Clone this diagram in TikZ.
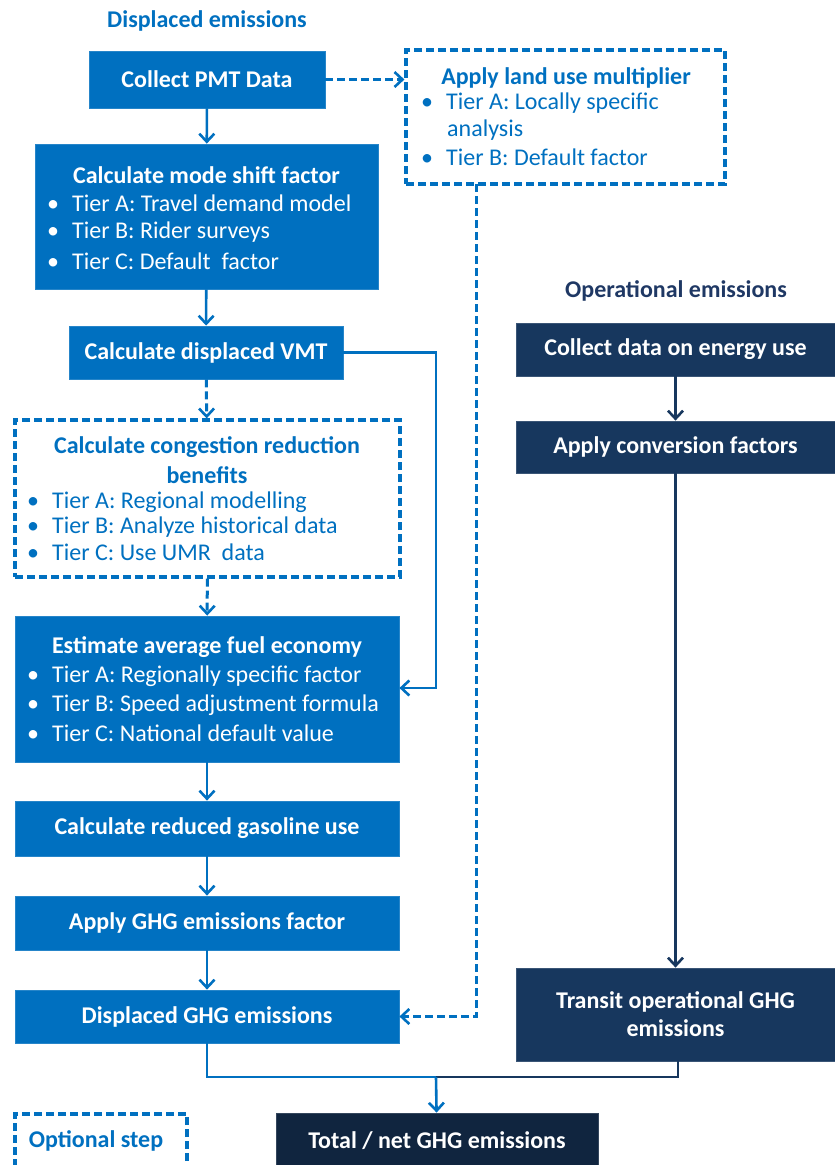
\documentclass[tikz,border=0pt]{standalone}
\usepackage{fontspec}
\setmainfont{Carlito}
\usetikzlibrary{arrows.meta}
\definecolor{cblue}{RGB}{0,112,192}
\definecolor{cnavy}{RGB}{23,55,94}
\definecolor{cdark}{RGB}{16,37,63}
\definecolor{ctitle}{RGB}{31,56,100}
\newcommand{\bl}{\makebox[25pt][l]{\textbullet}}
\tikzset{
  fb/.style={fill=cblue, draw=cblue!85!white, line width=0.8pt, inner sep=0pt, text=white, font=\fontsize{24}{28}\selectfont\bfseries},
  nb/.style={fill=cnavy, draw=cnavy!85!white, line width=0.8pt, inner sep=0pt, text=white, font=\fontsize{24}{28}\selectfont\bfseries, align=center},
  db/.style={draw=cblue, line width=3.2pt, dash pattern=on 8pt off 4pt, inner sep=0pt},
  ttlw/.style={text=white, font=\fontsize{24}{28}\selectfont\bfseries, inner sep=0pt},
  ttlb/.style={text=cblue, font=\fontsize{24}{28}\selectfont\bfseries, inner sep=0pt},
  bulw/.style={text=white, font=\fontsize{24}{28}\selectfont, anchor=west, inner sep=0pt},
  bulb/.style={text=cblue, font=\fontsize{24}{28}\selectfont, anchor=west, inner sep=0pt},
  arr/.style={draw=cblue, line width=2.6pt, -{Straight Barb[length=8pt,width=15pt,line width=2.6pt]}},
  darr/.style={arr, line width=3pt, dash pattern=on 8pt off 4pt},
  narr/.style={arr, draw=cnavy},
  ln/.style={draw=cblue, line width=2.6pt},
}
\begin{document}
\begin{tikzpicture}[x=1pt,y=-1pt]
\useasboundingbox (0,0) rectangle (835,1165);

% titles
\node[ttlb] (tdisp) at (207,21) {Displaced emissions};
\node[text=ctitle, font=\fontsize{24}{28}\selectfont\bfseries, inner sep=0pt] (top) at (676,291) {Operational emissions};

% left column
\node[fb, minimum width=236, minimum height=57] (pmt) at (207,79.5) {Collect PMT Data};

\node[fb, minimum width=343, minimum height=145] (ms) at (206.5,216.5) {};
\node[ttlw] (mst) at (206.5,175) {Calculate mode shift factor};
\node[bulw] (ms1) at (47,203) {\bl Tier A: Travel demand model};
\node[bulw] (ms2) at (47,232) {\bl Tier B: Rider surveys};
\node[bulw] (ms3) at (47,261) {\bl Tier C: Default\ \ factor};

\node[fb, minimum width=274, minimum height=53] (vmt) at (206,352.5) {Calculate displaced VMT};

\node[db, minimum width=385, minimum height=157] (cg) at (207.5,498.5) {};
\node[ttlb] (cgt1) at (207,447) {Calculate congestion reduction};
\node[ttlb] (cgt2) at (207,475) {benefits};
\node[bulb] (cg1) at (27,502) {\bl Tier A: Regional modelling};
\node[bulb] (cg2) at (27,527) {\bl Tier B: Analyze historical data};
\node[bulb] (cg3) at (27,552) {\bl Tier C: Use UMR\ \ data};

\node[fb, minimum width=384, minimum height=146] (fe) at (207,689) {};
\node[ttlw] (fet) at (207,647) {Estimate average fuel economy};
\node[bulw] (fe1) at (27,676) {\bl Tier A: Regionally specific factor};
\node[bulw] (fe2) at (27,705) {\bl Tier B: Speed adjustment formula};
\node[bulw] (fe3) at (27,733) {\bl Tier C: National default value};

\node[fb, minimum width=384, minimum height=55] (gas) at (207,828.5) {Calculate reduced gasoline use};
\node[fb, minimum width=384, minimum height=54] (ghgf) at (207,923) {Apply GHG emissions factor};
\node[fb, minimum width=384, minimum height=53] (dghg) at (207,1016.5) {Displaced GHG emissions};

% land use
\node[db, minimum width=319, minimum height=134] (lu) at (565.5,117) {};
\node[ttlb] (lut) at (566,78) {Apply land use multiplier};
\node[bulb] (lu1) at (421,103) {\bl Tier A: Locally specific};
\node[bulb] (lu2) at (447,130) {analysis};
\node[bulb] (lu3) at (421,157) {\bl Tier B: Default factor};

% right column
\node[nb, minimum width=319, minimum height=53] (en) at (675.5,349.5) {Collect data on energy use};
\node[nb, minimum width=319, minimum height=52] (cf) at (675.5,447) {Apply conversion factors};
\node[nb, minimum width=319, minimum height=93] (tr) at (675.5,1014.5) {Transit operational GHG\\emissions};

% bottom
\node[nb, fill=cdark, draw=cdark!85!white, minimum width=322, minimum height=56] (tot) at (437,1141) {Total / net GHG emissions};
\node[db, minimum width=172, minimum height=55] (opt) at (101,1141.5) {};
\node[ttlb] (optt) at (96,1141) {Optional step};

% connectors
\draw[arr] (pmt) -- (ms);
\draw[darr] (pmt.east) -- (lu.west |- pmt.east);
\draw[arr] (ms) -- (vmt);
\draw[darr] (vmt) -- (cg);
\draw[darr] (cg) -- (fe);
\coordinate (vr) at (436,352.5);
\coordinate (fr) at (436,688);
\draw[arr] (vmt.east) -- (vr) -- (fr) -- (fe.east |- fr);
\draw[arr] (fe) -- (gas);
\draw[arr] (gas) -- (ghgf);
\draw[arr] (ghgf) -- (dghg);
\coordinate (lub) at (476,184);
\coordinate (luc) at (476,1016.5);
\draw[darr] (lub) -- (luc) -- (dghg.east);
\draw[narr] (en) -- (cf);
\draw[narr] (cf) -- (tr);
\coordinate (mj) at (436,1077);
\coordinate (dl) at (207,1077);
\coordinate (tl) at (678,1077);
\draw[ln] (dghg.south) -- (dl) -- (mj);
\draw[ln, draw=cnavy] (tr.south -| tl) -- (tl) -- (mj);
\draw[arr] (mj) -- (tot);
\end{tikzpicture}
\end{document}
